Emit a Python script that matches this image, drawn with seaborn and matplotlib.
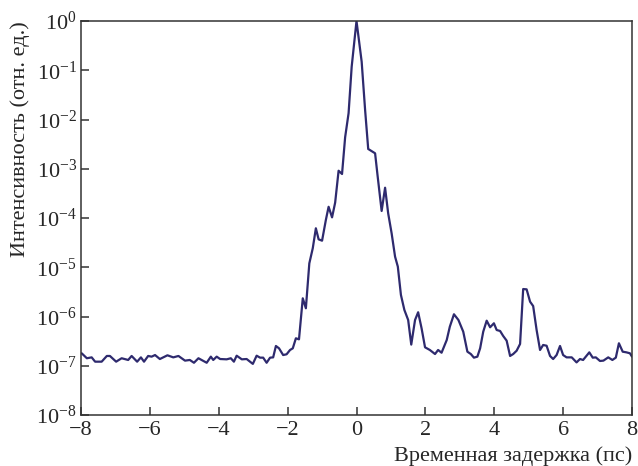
import numpy as np
import pandas as pd
import matplotlib
matplotlib.use("Agg")
import matplotlib.pyplot as plt
import seaborn as sns
from matplotlib.ticker import LogLocator, NullLocator, FixedLocator

delay_ps = [-7.98, -7.83, -7.69, -7.59, -7.40, -7.25, -7.16, -6.98, -6.82, -6.63,
            -6.53, -6.37, -6.26, -6.17, -6.05, -5.95, -5.85, -5.71, -5.49, -5.32,
            -5.17, -4.98, -4.84, -4.72, -4.59, -4.35, -4.23, -4.16, -4.06, -3.96,
            -3.77, -3.65, -3.56, -3.48, -3.33, -3.19, -3.01, -2.90, -2.80, -2.71,
            -2.61, -2.51, -2.42, -2.34, -2.25, -2.13, -2.03, -1.93, -1.85, -1.76,
            -1.67, -1.56, -1.47, -1.37, -1.27, -1.18, -1.10, -1.00, -0.89, -0.81,
            -0.71, -0.62, -0.52, -0.42, -0.33, -0.23, -0.14, 0.00, 0.15, 0.25,
            0.34, 0.54, 0.61, 0.73, 0.83, 0.92, 1.02, 1.12, 1.20, 1.29,
            1.39, 1.50, 1.59, 1.70, 1.79, 1.89, 1.99, 2.13, 2.28, 2.37,
            2.47, 2.62, 2.71, 2.83, 2.96, 3.10, 3.22, 3.32, 3.41, 3.51,
            3.59, 3.68, 3.78, 3.88, 3.99, 4.07, 4.17, 4.26, 4.36, 4.46,
            4.55, 4.65, 4.75, 4.84, 4.94, 5.04, 5.13, 5.23, 5.33, 5.42,
            5.52, 5.62, 5.71, 5.81, 5.91, 6.00, 6.10, 6.25, 6.39, 6.49,
            6.58, 6.76, 6.86, 6.95, 7.07, 7.17, 7.31, 7.43, 7.53, 7.62,
            7.73, 7.84, 7.94, 8.00]

intensity = [1.79e-7, 1.42e-7, 1.48e-7, 1.21e-7, 1.21e-7, 1.58e-7, 1.58e-7, 1.21e-7, 1.42e-7, 1.31e-7,
             1.58e-7, 1.21e-7, 1.48e-7, 1.21e-7, 1.58e-7, 1.53e-7, 1.65e-7, 1.37e-7, 1.63e-7, 1.48e-7,
             1.58e-7, 1.27e-7, 1.31e-7, 1.15e-7, 1.42e-7, 1.15e-7, 1.53e-7, 1.31e-7, 1.53e-7, 1.37e-7,
             1.35e-7, 1.42e-7, 1.21e-7, 1.60e-7, 1.35e-7, 1.37e-7, 1.09e-7, 1.60e-7, 1.46e-7, 1.46e-7,
             1.15e-7, 1.46e-7, 1.48e-7, 2.52e-7, 2.26e-7, 1.65e-7, 1.71e-7, 2.09e-7, 2.26e-7, 3.61e-7,
             3.44e-7, 2.34e-6, 1.47e-6, 1.20e-5, 2.43e-5, 6.18e-5, 3.69e-5, 3.46e-5, 9.10e-5, 1.69e-4,
             1.03e-4, 2.05e-4, 9.12e-4, 7.82e-4, 4.36e-3, 1.34e-2, 1.18e-1, 1.0, 1.49e-1, 1.56e-2,
             2.52e-3, 2.06e-3, 7.46e-4, 1.39e-4, 4.12e-4, 1.24e-4, 4.89e-5, 1.64e-5, 1.03e-5, 2.74e-6,
             1.36e-6, 8.51e-7, 2.69e-7, 8.49e-7, 1.22e-6, 5.75e-7, 2.37e-7, 2.09e-7, 1.73e-7, 2.09e-7,
             1.84e-7, 3.33e-7, 6.21e-7, 1.11e-6, 8.49e-7, 4.91e-7, 1.93e-7, 1.73e-7, 1.46e-7, 1.53e-7,
             2.26e-7, 4.91e-7, 8.22e-7, 6.04e-7, 7.28e-7, 5.32e-7, 5.08e-7, 4.02e-7, 3.23e-7, 1.58e-7,
             1.73e-7, 2.02e-7, 2.77e-7, 3.61e-6, 3.56e-6, 2.00e-6, 1.63e-6, 5.32e-7, 2.09e-7, 2.64e-7,
             2.55e-7, 1.58e-7, 1.37e-7, 1.65e-7, 2.52e-7, 1.65e-7, 1.48e-7, 1.48e-7, 1.17e-7, 1.37e-7,
             1.31e-7, 1.87e-7, 1.46e-7, 1.48e-7, 1.25e-7, 1.27e-7, 1.48e-7, 1.31e-7, 1.46e-7, 2.86e-7,
             1.93e-7, 1.87e-7, 1.79e-7, 1.53e-7]

x_ticks = [-8, -6, -4, -2, 0, 2, 4, 6, 8]
x_label = "Временная задержка (пс)"
y_label = "Интенсивность (отн. ед.)"

sns.set_style("ticks")
plt.rcParams['font.family'] = ['Liberation Serif', 'DejaVu Serif']
plt.rcParams['mathtext.fontset'] = 'stix'
plt.rcParams['axes.unicode_minus'] = True

df = pd.DataFrame({"delay": delay_ps, "intensity": intensity})

fig = plt.figure(figsize=(6.38, 4.66), dpi=100)
ax = fig.add_axes([81/638, 51/466, 551/638, 394/466])

sns.lineplot(data=df, x="delay", y="intensity", ax=ax, color="#2e2a6e",
             linewidth=1.6, estimator=None, sort=False)

ax.set_yscale("log")
ax.set_xlim(-8, 8)
ax.set_ylim(1e-8, 1)
ax.xaxis.set_major_locator(FixedLocator(x_ticks))
ax.yaxis.set_major_locator(LogLocator(base=10, numticks=20))
ax.yaxis.set_minor_locator(NullLocator())
ax.xaxis.set_minor_locator(NullLocator())

for s in ax.spines.values():
    s.set_color("#333333")
    s.set_linewidth(1.1)

ax.tick_params(axis="both", which="major", direction="in", length=6, width=1.1,
               color="#333333", labelsize=16, top=False, right=False)
ax.tick_params(axis="x", pad=4)
ax.tick_params(axis="y", pad=3)

ax.set_xlabel("")
ax.set_ylabel(y_label, fontsize=16)
ax.yaxis.set_label_coords((20 - 81) / 551, 1.0)
ax.yaxis.label.set_verticalalignment("center")
ax.yaxis.label.set_horizontalalignment("right")
fig.text(632/638, 1 - 456/466, x_label, ha="right", va="center", fontsize=16)

fig.savefig("out.png", dpi=100)
